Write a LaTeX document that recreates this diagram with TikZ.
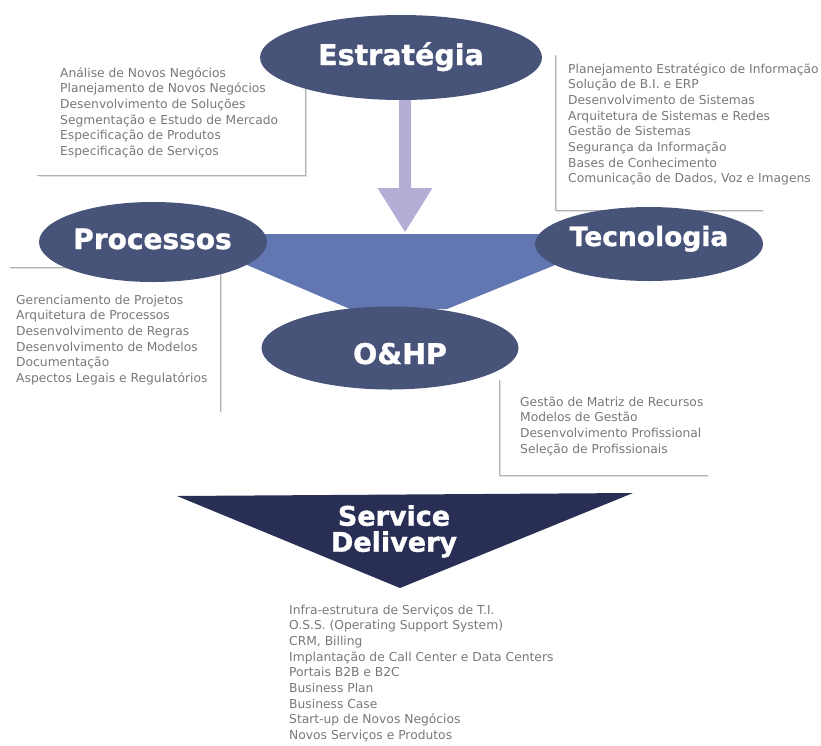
\documentclass[tikz,border=0pt]{standalone}
\usepackage{fontspec}
\setmainfont{DejaVu Sans}
\newfontfamily\lblfont[FakeBold=1.2]{DejaVu Sans Bold}
\usetikzlibrary{shapes.geometric}
\definecolor{ellc}{RGB}{72,83,122}
\definecolor{trapc}{RGB}{98,118,178}
\definecolor{arrc}{RGB}{180,174,214}
\definecolor{navyc}{RGB}{40,46,84}
\definecolor{txtc}{RGB}{120,120,120}
\definecolor{linec}{RGB}{178,178,178}
\definecolor{shadc}{RGB}{225,225,225}
\begin{document}
\begin{tikzpicture}[x=1pt,y=-1pt,
  ell/.style={ellipse, fill=ellc, draw=none, inner sep=0pt},
  lbl/.style={text=white, anchor=base, inner sep=0pt},
  lst/.style={text=txtc, anchor=base west, inner sep=0pt, font=\fontsize{12.3}{15.7}\selectfont},
  boxline/.style={draw=linec, line width=1pt},
  boxshadow/.style={draw=shadc, line width=1.2pt}]
\useasboundingbox (0,0) rectangle (821,745);

% box lines (shadow first)
\draw[boxshadow] (38.5,176.5) -- (306.5,176.5) -- (306.5,86);
\draw[boxline] (37,175) -- (305,175) -- (305,86);
\draw[boxshadow] (556.5,56) -- (556.5,211.5) -- (764,211.5);
\draw[boxline] (555,55) -- (555,210) -- (763,210);
\draw[boxshadow] (11,268.5) -- (221.5,268.5) -- (221.5,413);
\draw[boxline] (10,267) -- (220,267) -- (220,412);
\draw[boxshadow] (500.5,381) -- (500.5,476.5) -- (709,476.5);
\draw[boxline] (499,380) -- (499,475) -- (708,475);

% central trapezoid
\fill[trapc] (245,234) -- (560,234) -- (560,263) -- (447,309) -- (350,309) -- (240,262) -- cycle;

% fat arrow from Estrategia down to the trapezoid
\coordinate (atip) at (405,232);
\fill[arrc] (399,90) -- (399,188) -- (377.5,188) -- (atip) -- (432.5,188) -- (411,188) -- (411,90) -- cycle;

% ellipses
\node[ell, minimum width=282pt, minimum height=85pt] (estr) at (401,57.5) {};
\node[ell, minimum width=228pt, minimum height=80pt] (proc) at (153,242) {};
\node[ell, minimum width=228pt, minimum height=74pt] (tecn) at (649,244) {};
\node[ell, minimum width=257pt, minimum height=83pt] (ohp) at (390,348) {};

% service delivery triangle
\fill[navyc] (177,496) -- (633,493) -- (400,588) -- cycle;

% labels
\node[lbl, font=\fontsize{28.5}{30}\selectfont\lblfont] (lestr) at (401,65) {Estratégia};
\node[lbl, font=\fontsize{28}{30}\selectfont\lblfont] (lproc) at (152.5,249) {Processos};
\node[lbl, font=\fontsize{26.5}{30}\selectfont\lblfont] (ltecn) at (649,246) {Tecnologia};
\node[lbl, font=\fontsize{28.5}{30}\selectfont\lblfont] (lohp) at (400,364) {O\&HP};
\node[lbl, font=\fontsize{27}{26}\selectfont\lblfont, align=center, anchor=north] (lsd) at (394,505) {Service\\Delivery};

% lists
\node[lst] (l1) at (60,77) {\begin{tabular}[t]{@{}l@{}}Análise de Novos Negócios\\Planejamento de Novos Negócios\\Desenvolvimento de Soluções\\Segmentação e Estudo de Mercado\\Especificação de Produtos\\Especificação de Serviços\end{tabular}};
\node[lst] (l2) at (568,73) {\begin{tabular}[t]{@{}l@{}}Planejamento Estratégico de Informação\\Solução de B.I. e ERP\\Desenvolvimento de Sistemas\\Arquitetura de Sistemas e Redes\\Gestão de Sistemas\\Segurança da Informação\\Bases de Conhecimento\\Comunicação de Dados, Voz e Imagens\end{tabular}};
\node[lst] (l3) at (16,304) {\begin{tabular}[t]{@{}l@{}}Gerenciamento de Projetos\\Arquitetura de Processos\\Desenvolvimento de Regras\\Desenvolvimento de Modelos\\Documentação\\Aspectos Legais e Regulatórios\end{tabular}};
\node[lst] (l4) at (520,406) {\begin{tabular}[t]{@{}l@{}}Gestão de Matriz de Recursos\\Modelos de Gestão\\Desenvolvimento Profissional\\Seleção de Profissionais\end{tabular}};
\node[lst] (l5) at (289,614) {\begin{tabular}[t]{@{}l@{}}Infra-estrutura de Serviços de T.I.\\O.S.S. (Operating Support System)\\CRM, Billing\\Implantação de Call Center e Data Centers\\Portais B2B e B2C\\Business Plan\\Business Case\\Start-up de Novos Negócios\\Novos Serviços e Produtos\end{tabular}};
\end{tikzpicture}
\end{document}
